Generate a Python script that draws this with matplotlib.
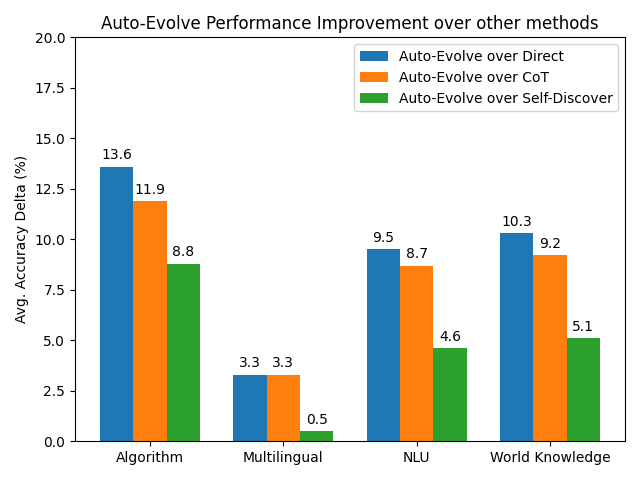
import numpy as np
import matplotlib.pyplot as plt

categories = ["Algorithm", "Multilingual", "NLU", "World Knowledge"]
over_direct = [13.6, 3.3, 9.5, 10.3]
over_cot = [11.9, 3.3, 8.7, 9.2]
over_self_discover = [8.8, 0.5, 4.6, 5.1]

series = {
    "Auto-Evolve over Direct": over_direct,
    "Auto-Evolve over CoT": over_cot,
    "Auto-Evolve over Self-Discover": over_self_discover,
}

x = np.arange(len(categories))
width = 0.25

fig, ax = plt.subplots(figsize=(6.4, 4.8), dpi=100)

for i, (label, values) in enumerate(series.items()):
    bars = ax.bar(x + (i - 1) * width, values, width, label=label)
    ax.bar_label(bars, padding=3)

ax.set_ylabel("Avg. Accuracy Delta (%)")
ax.set_title("Auto-Evolve Performance Improvement over other methods")
ax.set_xticks(x)
ax.set_xticklabels(categories)
ax.set_ylim(0, 20)
ax.legend(loc="upper right")

fig.tight_layout()
fig.savefig("out.png", dpi=100)
